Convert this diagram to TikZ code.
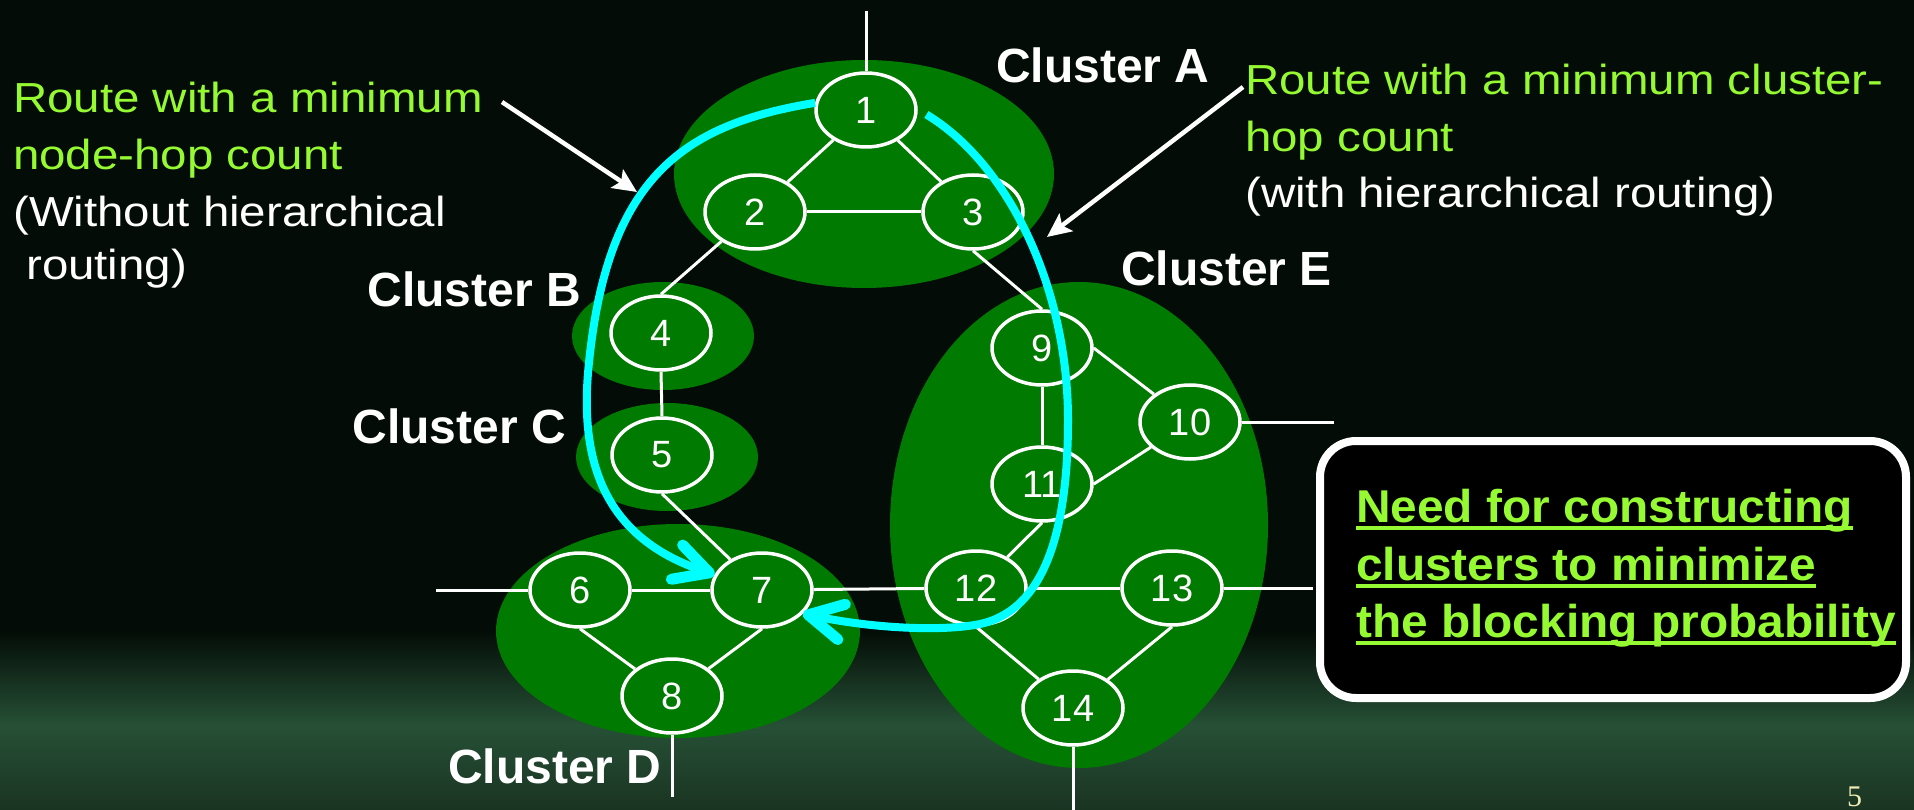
\documentclass[tikz,border=0pt]{standalone}
\usepackage{fontspec}
\setmainfont{Liberation Sans}
\newfontfamily\labelfont[FakeStretch=1.13]{Liberation Sans}
\newfontfamily\boxfont[FakeStretch=1.04]{Liberation Sans}
\newfontfamily\pagefont{Liberation Serif}
\usetikzlibrary{shapes.geometric,arrows.meta}
\definecolor{bgc}{RGB}{3,12,6}
\definecolor{glowA}{RGB}{38,80,54}
\definecolor{glowB}{RGB}{26,52,34}
\definecolor{clgreen}{RGB}{0,122,0}
\definecolor{routegreen}{RGB}{150,250,50}
\definecolor{routecyan}{RGB}{0,255,255}
\definecolor{pagenum}{RGB}{240,235,180}
\tikzset{
  cluster/.style={ellipse, fill=clgreen, inner sep=0pt},
  netnode/.style={ellipse, draw=white, line width=3.5pt, fill=clgreen,
    minimum width=100pt, minimum height=74pt, inner sep=0pt, text=white,
    font=\fontsize{38pt}{40pt}\selectfont},
  edge/.style={draw=white, line width=3pt},
  route/.style={draw=routecyan, line width=8pt,
    -{Straight Barb[length=34pt,width=36pt,line width=11pt,round]}},
  note/.style={draw=white, line width=4.5pt,
    -{Stealth[length=24pt,width=22pt,inset=5pt]}},
  cltext/.style={inner sep=0pt, text=white,
    font=\fontsize{48pt}{50pt}\selectfont\bfseries},
  routetext/.style={anchor=base west, inner sep=0pt,
    font=\labelfont\fontsize{42pt}{57pt}\selectfont},
  boxtext/.style={anchor=base west, inner sep=0pt, text=routegreen,
    font=\boxfont\bfseries\fontsize{46pt}{58pt}\selectfont},
  uline/.style={draw=routegreen, line width=4pt},
}
\begin{document}
\begin{tikzpicture}[x=1pt,y=-1pt]
\useasboundingbox (0,0) rectangle (1914,810);
% background
\fill[bgc] (0,0) rectangle (1914,810);
\shade[top color=bgc, bottom color=glowA] (0,630) rectangle (1914,725);
\shade[top color=glowA, bottom color=glowB] (0,725) rectangle (1914,810);

% clusters
\node[cluster, minimum width=380pt, minimum height=228pt] (cA) at (864,174) {};
\node[cluster, minimum width=182pt, minimum height=108pt] (cB) at (663,336) {};
\node[cluster, minimum width=182pt, minimum height=108pt] (cC) at (667,457) {};
\node[cluster, minimum width=364pt, minimum height=214pt] (cD) at (678,631) {};
\node[cluster, minimum width=378pt, minimum height=486pt] (cE) at (1079,525) {};

% network nodes
\node[netnode] (n1) at (866,110) {1};
\node[netnode] (n2) at (755,212) {2};
\node[netnode] (n3) at (973,212) {3};
\node[netnode] (n4) at (661,333) {4};
\node[netnode] (n5) at (662,455) {5};
\node[netnode] (n6) at (580,590) {6};
\node[netnode] (n7) at (762,590) {7};
\node[netnode] (n8) at (672,696) {8};
\node[netnode] (n9) at (1042,348) {9};
\node[netnode] (n10) at (1190,422) {10};
\node[netnode] (n11) at (1042,484) {11};
\node[netnode] (n12) at (976,588) {12};
\node[netnode] (n13) at (1172,588) {13};
\node[netnode] (n14) at (1073,708) {14};

% free ends of outside links
\coordinate (o1) at (866,11);
\coordinate (o6) at (436,590);
\coordinate (o8) at (671,797);
\coordinate (o10) at (1334,422);
\coordinate (o13) at (1313,588);
\coordinate (o14) at (1073,815);

% links
\draw[edge] (n1.north) -- (n1.north |- o1);
\draw[edge] (n1) -- (n2);
\draw[edge] (n1) -- (n3);
\draw[edge] (n2) -- (n3);
\draw[edge] (n2) -- (n4.north);
\draw[edge] (n3.south) -- (n9.north);
\draw[edge] (n4.south) -- (n5.north);
\draw[edge] (n5.south) -- (n7);
\draw[edge] (n6) -- (n7);
\draw[edge] (n6.south) -- (n8);
\draw[edge] (n7.south) -- (n8);
\draw[edge] (n6.west) -- (o6);
\draw[edge] (n8.south) -- (n8.south |- o8);
\draw[edge] (n7) -- (n12);
\draw[edge] (n9.east) -- (n10);
\draw[edge] (n9) -- (n11);
\draw[edge] (n11.east) -- (n10);
\draw[edge] (n11.south) -- (n12);
\draw[edge] (n12) -- (n13);
\draw[edge] (n12.south) -- (n14);
\draw[edge] (n13.south) -- (n14);
\draw[edge] (n10.east) -- (o10);
\draw[edge] (n13.east) -- (o13);
\draw[edge] (n14.south) -- (n14.south |- o14);

% cluster labels
\node[cltext, anchor=base west] (lA) at (996,83) {Cluster A};
\node[cltext, anchor=base east] (lB) at (581,307) {Cluster B};
\node[cltext, anchor=base east] (lC) at (566,443) {Cluster C};
\node[cltext, anchor=base west] (lD) at (448,783) {Cluster D};
\node[cltext, anchor=base west] (lE) at (1121,286) {Cluster E};

% left annotation
\node[routetext, text=routegreen] (lt1) at (13,113) {Route with a minimum};
\node[routetext, text=routegreen] (lt2) at (13,170) {node-hop count};
\node[routetext, text=white] (lt3) at (13,227) {(Without hierarchical};
\node[routetext, text=white] (lt4) at (26,280) {routing)};

% right annotation
\node[routetext, text=routegreen] (rt1) at (1245,95) {Route with a minimum cluster-};
\node[routetext, text=routegreen] (rt2) at (1245,152) {hop count};
\node[routetext, text=white] (rt3) at (1245,208) {(with hierarchical routing)};

% annotation arrows
\coordinate (a1s) at (502,102);
\coordinate (a1e) at (637,192);
\coordinate (a2s) at (1243,87);
\coordinate (a2e) at (1047,237);
\draw[note] (a1s) -- (a1e);
\draw[note] (a2s) -- (a2e);

% routes
\draw[route] (n1.172) .. controls (680,125) and (605,180) .. (588,373)
  .. controls (580,470) and (610,540) .. (n7.162);
\draw[route] ([xshift=9pt]n1.-5) .. controls (1010,165) and (1068,290) .. (1068,420)
  .. controls (1068,530) and (1045,610) .. (980,624)
  .. controls (941,632) and (870,628) .. (n7.-30);

% box
\node[draw=white, line width=8pt, fill=black, rounded corners=36pt,
  minimum width=586pt, minimum height=257pt, inner sep=0pt] (box) at (1613,569.5) {};
\node[boxtext] (bt1) at (1356,522) {Need for constructing};
\node[boxtext] (bt2) at (1356,580) {clusters to minimize};
\node[boxtext] (bt3) at (1356,637) {the blocking probability};
\draw[uline] ([yshift=-6pt]bt1.base west) -- ([yshift=-6pt]bt1.base east);
\draw[uline] ([yshift=-6pt]bt2.base west) -- ([yshift=-6pt]bt2.base east);
\draw[uline] ([yshift=-6pt]bt3.base west) -- ([yshift=-6pt]bt3.base east);

% page number
\node[anchor=base west, inner sep=0pt, text=pagenum,
  font=\pagefont\fontsize{30pt}{32pt}\selectfont] (pg) at (1847,806) {5};
\end{tikzpicture}
\end{document}
